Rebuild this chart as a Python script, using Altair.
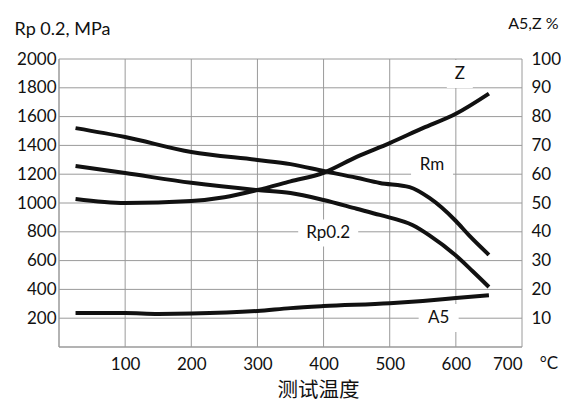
import altair as alt
import pandas as pd

# ---- data ----
rm_temp = [25, 100, 200, 300, 350, 400, 450, 485, 530, 560, 600, 620, 650]
rm_val = [1520, 1458, 1354, 1299, 1270, 1222, 1175, 1139, 1110, 1035, 875, 775, 640]
rp_temp = [25, 100, 200, 300, 350, 400, 450, 485, 535, 560, 600, 625, 650]
rp_val = [1257, 1208, 1140, 1090, 1070, 1021, 960, 917, 845, 775, 635, 528, 417]
z_temp = [25, 100, 200, 250, 300, 350, 400, 450, 500, 550, 600, 650]
z_val = [51.4, 50.0, 50.7, 52.0, 54.5, 57.5, 60.5, 66.0, 70.8, 76.0, 81.0, 88.0]
a5_temp = [25, 100, 150, 200, 300, 350, 400, 500, 550, 600, 650]
a5_val = [11.8, 11.8, 11.5, 11.6, 12.5, 13.5, 14.2, 15.2, 16.0, 17.0, 18.0]

label_text = ["Z", "Rm", "Rp0.2", "A5"]
label_temp = [606, 564, 407, 574]
label_mpa = [1896, 1264, 792, 201]

x_ticks = [100, 200, 300, 400, 500, 600, 700]
left_ticks = [200, 400, 600, 800, 1000, 1200, 1400, 1600, 1800, 2000]
right_ticks = [10, 20, 30, 40, 50, 60, 70, 80, 90, 100]

# label background box sizes (px) – styling only
box_w = [26, 42, 60, 40]
box_h = [28, 26, 27, 28]

FONT = "Lato"
GRID = "#9a9a9a"
INK = "#111111"

left_df = pd.concat([
    pd.DataFrame({"t": rm_temp, "v": rm_val, "s": "Rm"}),
    pd.DataFrame({"t": rp_temp, "v": rp_val, "s": "Rp0.2"}),
])
right_df = pd.concat([
    pd.DataFrame({"t": z_temp, "v": z_val, "s": "Z"}),
    pd.DataFrame({"t": a5_temp, "v": a5_val, "s": "A5"}),
])

xscale = alt.Scale(domain=[0, 700], nice=False)
lscale = alt.Scale(domain=[0, 2000], nice=False)
rscale = alt.Scale(domain=[0, 100], nice=False)

xaxis = alt.Axis(values=x_ticks, grid=False, ticks=False, domain=False,
                 labelPadding=9, labelFontSize=17, labelColor=INK, labelFont=FONT,
                 labelOverlap=False, format="d",
                 title="测试温度", titleFont="Noto Sans CJK SC",
                 titleFontSize=20.5, titleFontWeight="normal", titleColor=INK,
                 titleX=259, titleY=43, titleBaseline="middle", titleAlign="center")
laxis = alt.Axis(values=left_ticks, grid=False, ticks=False, domain=False,
                 labelPadding=3, labelFontSize=17, labelColor=INK, labelFont=FONT,
                 labelOverlap=False, format="d",
                 title="Rp 0.2, MPa", titleFont=FONT, titleFontSize=18,
                 titleFontWeight="normal", titleColor=INK, titleAngle=0,
                 titleX=-45, titleY=-25, titleAlign="left", titleBaseline="alphabetic")
raxis = alt.Axis(values=right_ticks, grid=False, ticks=False, domain=False, orient="right",
                 labelPadding=9, labelFontSize=17, labelColor=INK, labelFont=FONT,
                 labelAlign="left", labelOverlap=False, format="d",
                 title="A5,Z %", titleFont=FONT, titleFontSize=16,
                 titleFontWeight="normal", titleColor=INK, titleAngle=0,
                 titleX=36, titleY=-31, titleAlign="right", titleBaseline="alphabetic")


def X(field="t"):
    return alt.X(f"{field}:Q", scale=xscale, axis=xaxis)


def YL(field="v"):
    return alt.Y(f"{field}:Q", scale=lscale, axis=laxis)


# grid lines and frame, drawn from the tick arrays through the scales
vgrid = alt.Chart(pd.DataFrame({"t": x_ticks})).mark_rule(color=GRID, strokeWidth=1).encode(x=X())
hgrid = alt.Chart(pd.DataFrame({"v": left_ticks})).mark_rule(color=GRID, strokeWidth=1).encode(y=YL())
vframe = alt.Chart(pd.DataFrame({"t": [0]})).mark_rule(color=GRID, strokeWidth=1.5).encode(x=X())
hframe = alt.Chart(pd.DataFrame({"v": [0]})).mark_rule(color=GRID, strokeWidth=1.5).encode(y=YL())

left_lines = alt.Chart(left_df).mark_line(
    color=INK, strokeWidth=4, interpolate="monotone", strokeCap="butt"
).encode(x=X(), y=YL(), detail="s:N")

lab_df = pd.DataFrame({"txt": label_text, "t": label_temp, "v": label_mpa})

boxes = []
for i in range(len(label_text)):
    w, h = box_w[i], box_h[i]
    if w >= h:
        path = f"M-1,{-h / w:.4f}H1V{h / w:.4f}H-1Z"
        size = w * w
    else:
        path = f"M{-w / h:.4f},-1H{w / h:.4f}V1H{-w / h:.4f}Z"
        size = h * h
    boxes.append(
        alt.Chart(lab_df.iloc[[i]]).mark_point(
            shape=path, size=size, filled=True, color="white", opacity=1, strokeWidth=0
        ).encode(x=X(), y=YL())
    )

texts = alt.Chart(lab_df).mark_text(
    font=FONT, fontSize=17, color=INK, baseline="middle", align="center"
).encode(x=X(), y=YL(), text="txt:N")

unit_df = pd.DataFrame({"t": [700], "v": [0], "txt": ["°C"]})
unit = alt.Chart(unit_df).mark_text(
    font=FONT, fontSize=17, color=INK, baseline="middle", align="center", dx=27, dy=17
).encode(x=X(), y=YL(), text="txt:N")

left_group = alt.layer(vgrid, hgrid, vframe, hframe, left_lines, *boxes, texts, unit)

right_lines = alt.Chart(right_df).mark_line(
    color=INK, strokeWidth=4, interpolate="monotone", strokeCap="butt"
).encode(
    x=X(),
    y=alt.Y("v:Q", scale=rscale, axis=raxis),
    detail="s:N",
)

chart = alt.layer(left_group, right_lines).resolve_scale(y="independent").properties(
    width=463, height=288,
    autosize=alt.AutoSizeParams(type="none"),
    padding={"left": 51, "top": 51, "right": 39, "bottom": 56},
).configure_view(stroke=None).configure_axis(labelOverlap=False)

chart.save("out.html", embed_options={"renderer": "svg", "actions": False})
